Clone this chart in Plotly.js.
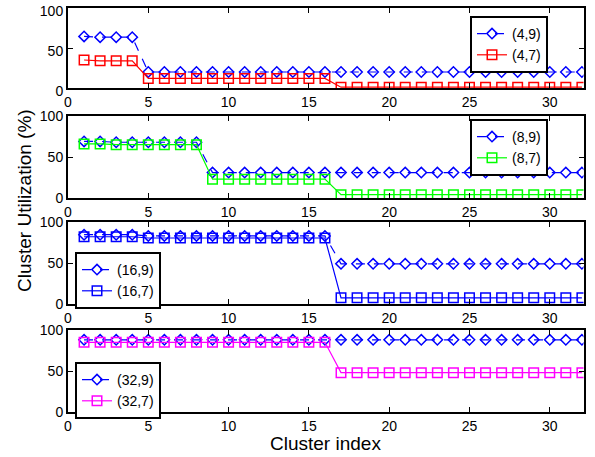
<!DOCTYPE html>
<html><head><meta charset="utf-8">
<script src="https://cdn.plot.ly/plotly-3.0.1.min.js"></script>
<style>html,body{margin:0;padding:0;background:#fff}</style>
</head><body>
<div id="chart" style="width:595px;height:457px"></div>
<script>
const clusterIdx = [1,2,3,4,5,6,7,8,9,10,11,12,13,14,15,16,17,18,19,20,21,22,23,24,25,26,27,28,29,30,31,32];
const s4_9  = [64.5,63.5,63.5,63.5,20,20,20,20,20,20,20,20,20,20,20,20,20,20,20,20,20,20,20,20,20,20,20,20,20,20,20,20];
const s4_7  = [35,34,34,34,12,12,12,12,12,12,12,12,12,12,12,12,1,1,1,1,1,1,1,1,1,1,1,1,1,1,1,1];
const s8_9  = [69,69,68,68,68,68,68,68,31,31,31,31,31,31,31,31,31,31,31,31,31,31,31,31,31,31,31,31,31,31,31,31];
const s8_7  = [66,66,65,65,65,65,65,65,23,23,23,23,23,23,23,23,4,4,4,4,4,4,4,4,4,4,4,4,4,4,4,4];
const s16_9 = [84.5,84.5,84.5,84.5,83,83,83,83,83,83,83,83,83,83,83,83,49,49,49,49,49,49,49,49,49,49,49,49,49,49,49,49];
const s16_7 = [82,82,82,82,80.5,80.5,80.5,80.5,80.5,80.5,80.5,80.5,80.5,80.5,80.5,80.5,7.5,7.5,7.5,7.5,7.5,7.5,7.5,7.5,7.5,7.5,7.5,7.5,7.5,7.5,7.5,7.5];
const s32_9 = [88,88,88,88,88,88,88,88,88,88,88,88,88,88,88,88,88,88,88,88,88,88,88,88,88,88,88,88,88,88,88,88];
const s32_7 = [85,85,85,85,85,85,85,85,85,85,85,85,85,85,85,85,48,48,48,48,48,48,48,48,48,48,48,48,48,48,48,48];
const names = [["(4,9)","(4,7)"],["(8,9)","(8,7)"],["(16,9)","(16,7)"],["(32,9)","(32,7)"]];
const seriesA = [s4_9, s8_9, s16_9, s32_9];
const seriesB = [s4_7, s8_7, s16_7, s32_7];
const colorsB = ["#ff0000","#00ff00","#0000ff","#ff00ff"];
const xTicks = [0,5,10,15,20,25,30];
const yTicks = [0,50,100];

const BLUE = "#0000ff";
const traces = [];
const legendKeys = ["legend","legend2","legend3","legend4"];
for (let i=0;i<4;i++){
  const ax = i===0 ? "" : String(i+1);
  traces.push({x:clusterIdx, y:seriesA[i], name:names[i][0], type:"scatter", mode:"lines+markers",
    xaxis:"x"+ax, yaxis:"y"+ax, legend:legendKeys[i],
    line:{color:BLUE,width:1.2,dash:"dash"},
    marker:{symbol:"diamond-open",size:8,color:BLUE,line:{width:1.5,color:BLUE}}});
  traces.push({x:clusterIdx, y:seriesB[i], name:names[i][1], type:"scatter", mode:"lines+markers",
    xaxis:"x"+ax, yaxis:"y"+ax, legend:legendKeys[i],
    line:{color:colorsB[i],width:1.2},
    marker:{symbol:"square-open",size:9.5,color:colorsB[i],line:{width:1.5,color:colorsB[i]}}});
}
const font = {family:"Liberation Sans, Arial, Helvetica, sans-serif", size:14, color:"#000"};
const H = 457;
const ydom = [[8,88],[116,198],[222,304],[330,412]].map(([t,b])=>[1-b/H,1-t/H]);
const layout = {
  width:595, height:457, margin:{l:0,r:0,t:0,b:0},
  paper_bgcolor:"#fff", plot_bgcolor:"#fff", font:font, showlegend:true,
  annotations:[
    {text:"Cluster index", xref:"paper", yref:"paper", x:(68+583.5)/2/595, y:1-443/H, xanchor:"center", yanchor:"middle", showarrow:false, font:{...font,size:19}},
    {text:"Cluster Utilization (%)", xref:"paper", yref:"paper", x:24/595, y:1-201/H, xanchor:"center", yanchor:"middle", textangle:-90, showarrow:false, font:{...font,size:19}}
  ]
};
const legPos = [[470,16],[470,119],[75,252],[75,362]];
for (let i=0;i<4;i++){
  const ax = i===0 ? "" : String(i+1);
  layout["xaxis"+ax] = {domain:[68/595,583.5/595], range:[0,32.1], anchor:"y"+ax,
    tickvals:xTicks, ticks:"inside", ticklen:5, tickwidth:1, tickcolor:"#000",
    showline:true, linecolor:"#000", linewidth:2, mirror:"ticks", showgrid:false, zeroline:false,
    tickfont:font, fixedrange:true, ticklabeloverflow:"allow"};
  layout["yaxis"+ax] = {domain:ydom[i], range:[0,100], anchor:"x"+ax,
    tickvals:yTicks, ticks:"inside", ticklen:5, tickwidth:1, tickcolor:"#000",
    showline:true, linecolor:"#000", linewidth:2, mirror:"ticks", showgrid:false, zeroline:false,
    tickfont:font, fixedrange:true, ticklabeloverflow:"allow", ticklabelshift: i===0 ? 3 : 0};
  layout[legendKeys[i]] = {x:legPos[i][0]/595, y:1-legPos[i][1]/H, xanchor:"left", yanchor:"top",
    bgcolor:"#fff", bordercolor:"#000", borderwidth:2, font:font, tracegroupgap:0};
}
Plotly.newPlot("chart", traces, layout, {staticPlot:true});
</script>
</body></html>
